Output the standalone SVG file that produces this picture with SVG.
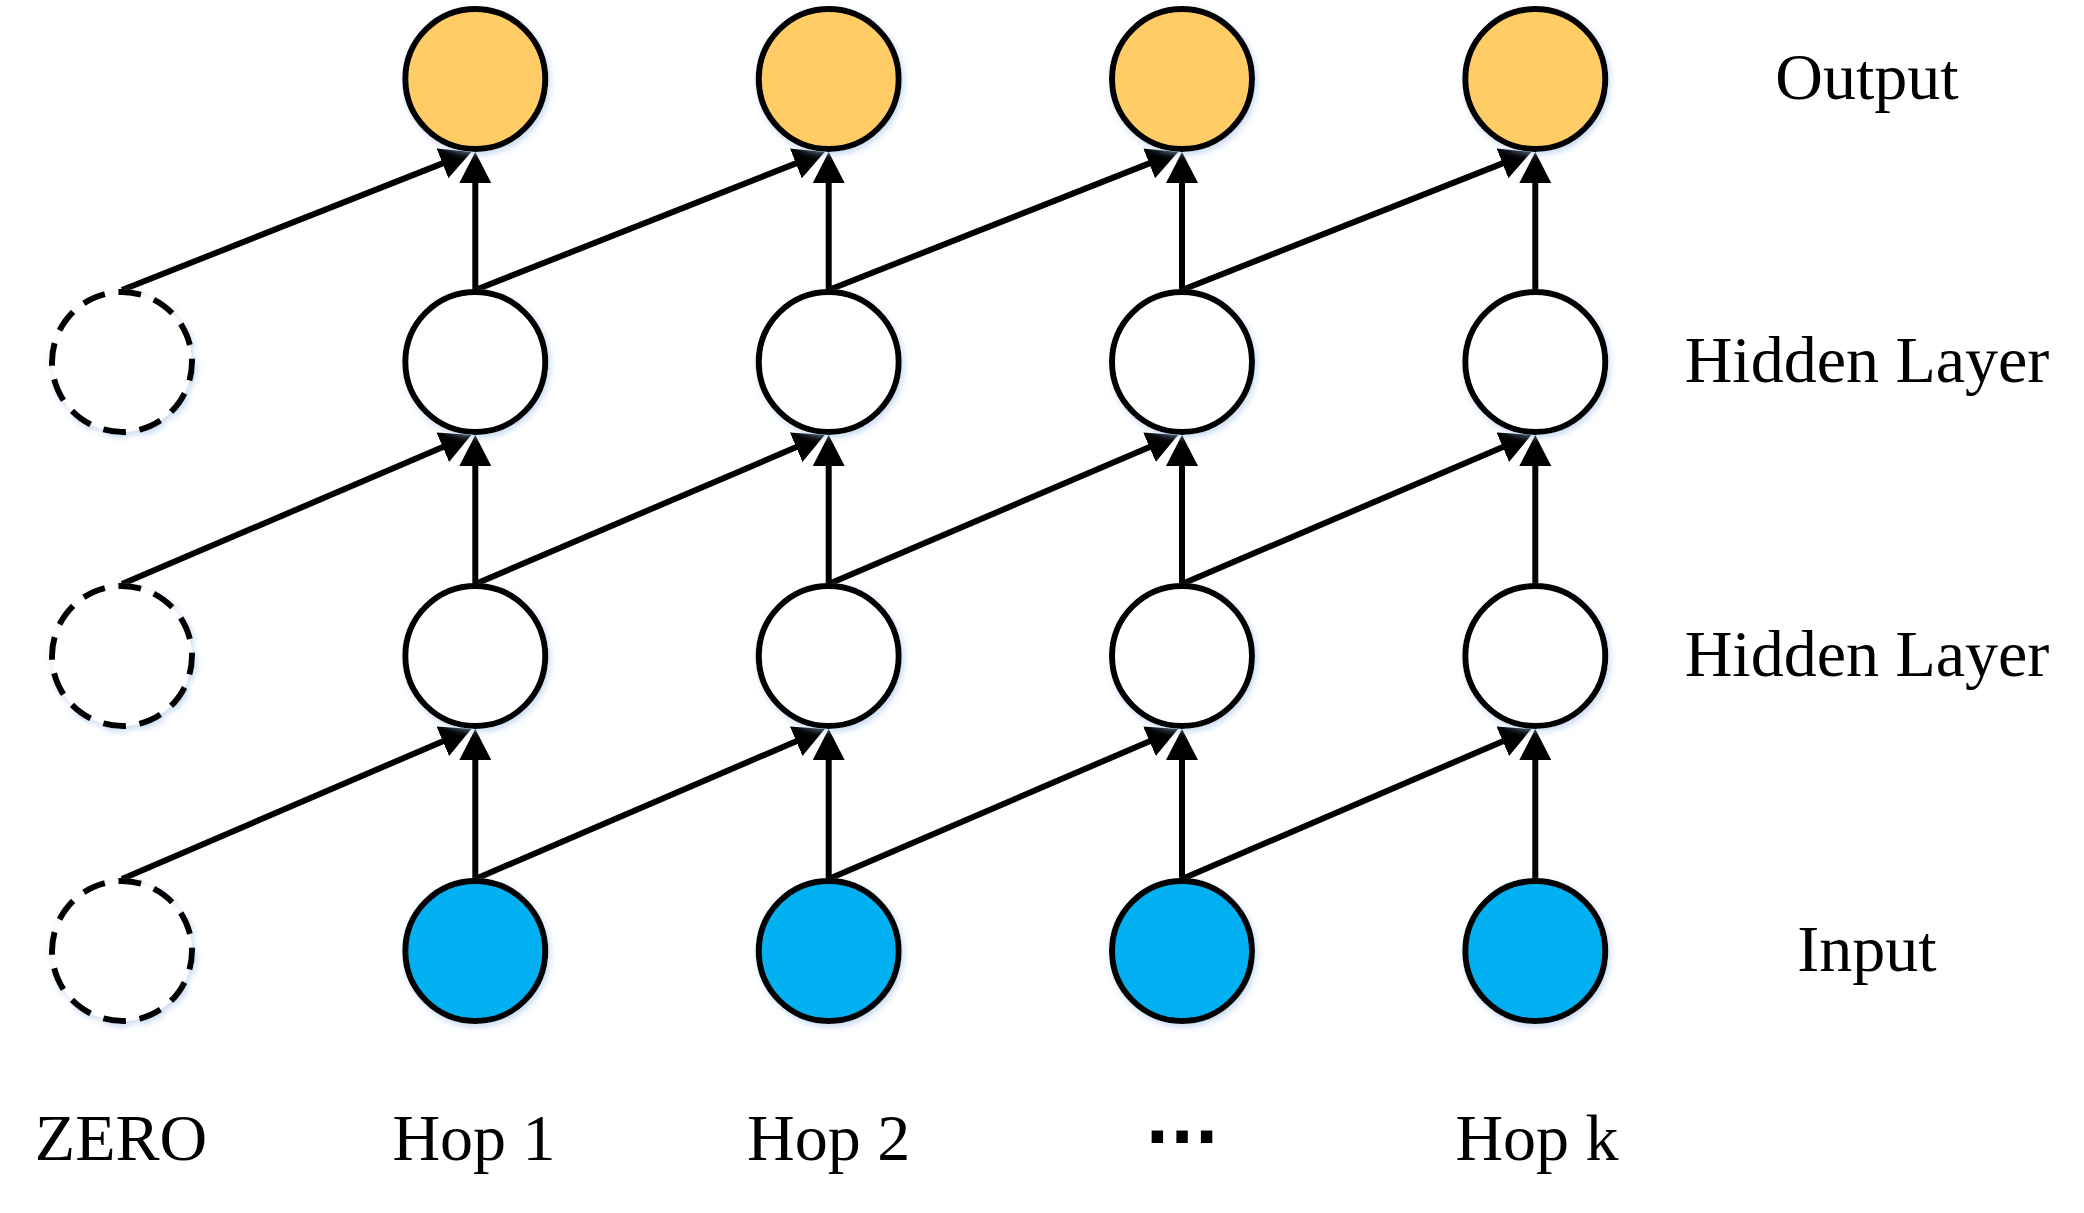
<svg xmlns="http://www.w3.org/2000/svg" width="2084" height="1213" viewBox="0 0 2084 1213">
  <style>
    .node { stroke: #000; stroke-width: 6; }
    .out { fill: #FFCC66; }
    .hid { fill: #FFFFFF; }
    .inp { fill: #00B0F0; }
    .zero { fill: #FFFFFF; stroke-dasharray: 23 13.65; stroke-dashoffset: 4.2; }
    .conn line { stroke: #000; stroke-width: 6; fill: none; marker-end: url(#arrow); }
    .lbl { font-family: "Liberation Serif", "Times New Roman", serif; font-size: 66px; fill: #000; text-anchor: middle; }
    .dots { font-family: "DejaVu Sans", sans-serif; font-weight: bold; font-size: 65px; fill: #000; text-anchor: middle; }
  </style>
  <defs>
    <marker id="arrow" markerUnits="userSpaceOnUse" viewBox="0 0 31 32" markerWidth="31" markerHeight="32" refX="11" refY="16" orient="auto">
      <path d="M0,0 L31,16 L0,32 Z" fill="#000"/>
    </marker>
    <filter id="glow" x="-30%" y="-30%" width="160%" height="160%">
      <feDropShadow dx="2" dy="3" stdDeviation="3" flood-color="#9dbde6" flood-opacity="0.55"/>
    </filter>
  </defs>
  <rect width="2084" height="1213" fill="#FFFFFF"/>

  <g id="connectors" class="conn">
    <!-- vertical: hidden1 -> output -->
    <line x1="475.3" y1="290" x2="475.3" y2="172"/>
    <line x1="828.7" y1="290" x2="828.7" y2="172"/>
    <line x1="1182" y1="290" x2="1182" y2="172"/>
    <line x1="1535.3" y1="290" x2="1535.3" y2="172"/>
    <!-- vertical: hidden2 -> hidden1 -->
    <line x1="475.3" y1="584" x2="475.3" y2="455"/>
    <line x1="828.7" y1="584" x2="828.7" y2="455"/>
    <line x1="1182" y1="584" x2="1182" y2="455"/>
    <line x1="1535.3" y1="584" x2="1535.3" y2="455"/>
    <!-- vertical: input -> hidden2 -->
    <line x1="475.3" y1="879" x2="475.3" y2="749"/>
    <line x1="828.7" y1="879" x2="828.7" y2="749"/>
    <line x1="1182" y1="879" x2="1182" y2="749"/>
    <line x1="1535.3" y1="879" x2="1535.3" y2="749"/>
    <!-- diagonal: hidden1 -> output -->
    <line x1="122" y1="290" x2="452.7" y2="159.35"/>
    <line x1="475.3" y1="290" x2="806.1" y2="159.35"/>
    <line x1="828.7" y1="290" x2="1159.4" y2="159.35"/>
    <line x1="1182" y1="290" x2="1512.7" y2="159.35"/>
    <!-- diagonal: hidden2 -> hidden1 -->
    <line x1="122" y1="584" x2="452.9" y2="442.85"/>
    <line x1="475.3" y1="584" x2="806.3" y2="442.85"/>
    <line x1="828.7" y1="584" x2="1159.6" y2="442.85"/>
    <line x1="1182" y1="584" x2="1512.9" y2="442.85"/>
    <!-- diagonal: input -> hidden2 -->
    <line x1="122" y1="879" x2="452.9" y2="736.9"/>
    <line x1="475.3" y1="879" x2="806.3" y2="736.9"/>
    <line x1="828.7" y1="879" x2="1159.6" y2="736.9"/>
    <line x1="1182" y1="879" x2="1512.9" y2="736.9"/>
  </g>

  <g filter="url(#glow)">
    <g id="zero-h1"><circle class="node zero" cx="122" cy="362" r="70"/></g>
    <g id="zero-h2"><circle class="node zero" cx="122" cy="656" r="70"/></g>
    <g id="zero-in"><circle class="node zero" cx="122" cy="951" r="70"/></g>

    <g id="out-1"><circle class="node out" cx="475.3" cy="79" r="70"/></g>
    <g id="out-2"><circle class="node out" cx="828.7" cy="79" r="70"/></g>
    <g id="out-3"><circle class="node out" cx="1182" cy="79" r="70"/></g>
    <g id="out-k"><circle class="node out" cx="1535.3" cy="79" r="70"/></g>

    <g id="h1-1"><circle class="node hid" cx="475.3" cy="362" r="70"/></g>
    <g id="h1-2"><circle class="node hid" cx="828.7" cy="362" r="70"/></g>
    <g id="h1-3"><circle class="node hid" cx="1182" cy="362" r="70"/></g>
    <g id="h1-k"><circle class="node hid" cx="1535.3" cy="362" r="70"/></g>

    <g id="h2-1"><circle class="node hid" cx="475.3" cy="656" r="70"/></g>
    <g id="h2-2"><circle class="node hid" cx="828.7" cy="656" r="70"/></g>
    <g id="h2-3"><circle class="node hid" cx="1182" cy="656" r="70"/></g>
    <g id="h2-k"><circle class="node hid" cx="1535.3" cy="656" r="70"/></g>

    <g id="in-1"><circle class="node inp" cx="475.3" cy="951" r="70"/></g>
    <g id="in-2"><circle class="node inp" cx="828.7" cy="951" r="70"/></g>
    <g id="in-3"><circle class="node inp" cx="1182" cy="951" r="70"/></g>
    <g id="in-k"><circle class="node inp" cx="1535.3" cy="951" r="70"/></g>
  </g>

  <g id="row-labels">
    <text class="lbl" x="1867" y="99">Output</text>
    <text class="lbl" x="1867" y="382">Hidden Layer</text>
    <text class="lbl" x="1867" y="676">Hidden Layer</text>
    <text class="lbl" x="1867" y="971">Input</text>
  </g>
  <g id="column-labels">
    <text class="lbl" x="121" y="1160">ZERO</text>
    <text class="lbl" x="474" y="1160">Hop 1</text>
    <text class="lbl" x="828.7" y="1160">Hop 2</text>
    <text class="dots" x="1182" y="1143">...</text>
    <text class="lbl" x="1537" y="1160">Hop k</text>
  </g>
</svg>
